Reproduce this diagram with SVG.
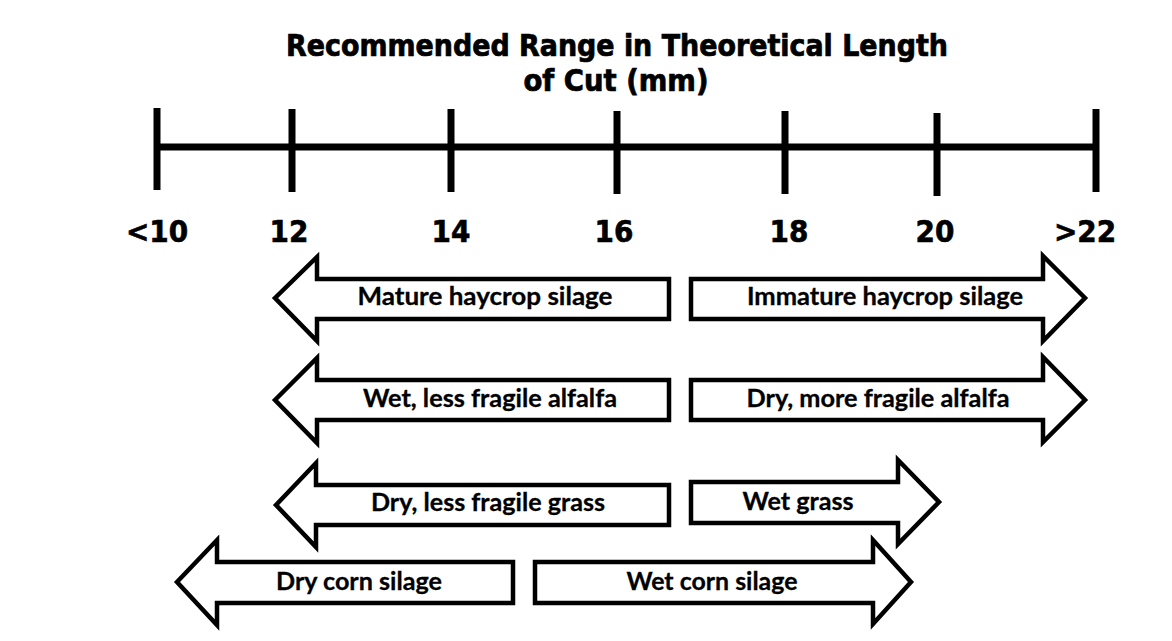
<svg xmlns="http://www.w3.org/2000/svg" width="1172" height="641" viewBox="0 0 1172 641">
<style>
.title{font-family:"DejaVu Sans Condensed","DejaVu Sans",sans-serif;font-weight:bold;font-size:30px;fill:#000;stroke:#000;stroke-width:0.7;text-anchor:middle}
.tick{font-family:"DejaVu Sans Condensed","DejaVu Sans",sans-serif;font-weight:bold;font-size:31px;fill:#000;stroke:#000;stroke-width:0.6;text-anchor:middle}
.lbl{font-family:Lato,"Open Sans",sans-serif;font-weight:bold;font-size:25px;fill:#000;stroke:#000;stroke-width:0.3;text-anchor:middle}
.arrow{fill:#fff;stroke:#000;stroke-width:4.5;stroke-linejoin:miter}
.axis{stroke:#000;stroke-width:7;fill:none}
</style>
<rect width="1172" height="641" fill="#fff"/>
<g id="title">
<text class="title" x="617" y="56" textLength="662" lengthAdjust="spacingAndGlyphs">Recommended Range in Theoretical Length</text>
<text class="title" x="616" y="91" textLength="185" lengthAdjust="spacingAndGlyphs">of Cut (mm)</text>
</g>
<g id="axis">
<line class="axis" x1="154" y1="147" x2="1099" y2="147"/>
<line class="axis" x1="157" y1="108" x2="157" y2="190"/>
<line class="axis" x1="292" y1="109" x2="292" y2="192"/>
<line class="axis" x1="451" y1="109" x2="451" y2="192"/>
<line class="axis" x1="617" y1="111" x2="617" y2="194"/>
<line class="axis" x1="785" y1="111" x2="785" y2="194"/>
<line class="axis" x1="937" y1="113" x2="937" y2="196"/>
<line class="axis" x1="1096" y1="109" x2="1096" y2="192"/>
<text class="tick" x="157" y="242">&lt;10</text>
<text class="tick" x="289" y="242">12</text>
<text class="tick" x="451" y="242">14</text>
<text class="tick" x="614" y="242">16</text>
<text class="tick" x="789" y="242">18</text>
<text class="tick" x="935" y="242">20</text>
<text class="tick" x="1085" y="242">&gt;22</text>
</g>
<g id="mature">
<polygon class="arrow" points="275,298 317,257 317,279 669,279 669,319 317,319 317,341"/>
<text class="lbl" x="485" y="305" textLength="255" lengthAdjust="spacingAndGlyphs">Mature haycrop silage</text>
</g>
<g id="immature">
<polygon class="arrow" points="691,279 1043,279 1043,256 1085,298 1043,341 1043,319 691,319"/>
<text class="lbl" x="885" y="305" textLength="276" lengthAdjust="spacingAndGlyphs">Immature haycrop silage</text>
</g>
<g id="wet-alfalfa">
<polygon class="arrow" points="275,400 317,358 317,380 669,380 669,420 317,420 317,443"/>
<text class="lbl" x="490" y="407" textLength="254" lengthAdjust="spacingAndGlyphs">Wet, less fragile alfalfa</text>
</g>
<g id="dry-alfalfa">
<polygon class="arrow" points="691,380 1043,380 1043,357 1085,400 1043,442 1043,420 691,420"/>
<text class="lbl" x="878" y="407" textLength="263" lengthAdjust="spacingAndGlyphs">Dry, more fragile alfalfa</text>
</g>
<g id="dry-grass">
<polygon class="arrow" points="276,505 316,463 316,485 669,485 669,525 316,525 316,547"/>
<text class="lbl" x="488" y="511" textLength="234" lengthAdjust="spacingAndGlyphs">Dry, less fragile grass</text>
</g>
<g id="wet-grass">
<polygon class="arrow" points="691,482 898,482 898,460 939,502 898,544 898,523 691,523"/>
<text class="lbl" x="798" y="510" textLength="111" lengthAdjust="spacingAndGlyphs">Wet grass</text>
</g>
<g id="dry-corn">
<polygon class="arrow" points="177,582 217,540 217,562 513,562 513,603 217,603 217,625"/>
<text class="lbl" x="359" y="590" textLength="166" lengthAdjust="spacingAndGlyphs">Dry corn silage</text>
</g>
<g id="wet-corn">
<polygon class="arrow" points="535,562 873,562 873,540 911,582 873,624 873,603 535,603"/>
<text class="lbl" x="712" y="590" textLength="171" lengthAdjust="spacingAndGlyphs">Wet corn silage</text>
</g>
<g id="connectors"></g>
</svg>
